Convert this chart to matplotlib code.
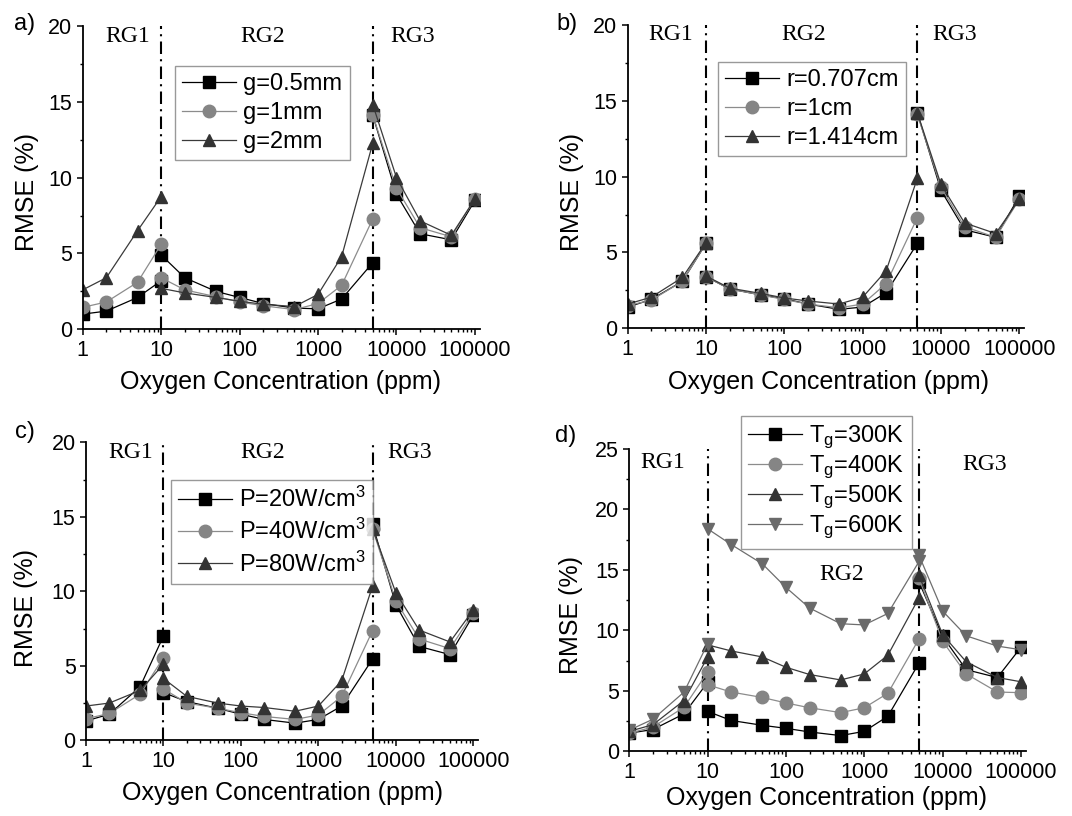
import matplotlib
matplotlib.use("Agg")
import matplotlib.pyplot as plt
from matplotlib.ticker import FixedLocator, NullFormatter

plt.rcParams['font.family'] = ['Liberation Sans', 'DejaVu Sans']
plt.rcParams['mathtext.fontset'] = 'custom'
plt.rcParams['mathtext.rm'] = 'Liberation Sans'
plt.rcParams['mathtext.it'] = 'Liberation Sans:italic'

# ---------------- data ----------------
x_rg1 = [1, 2, 5, 10]
x_rg2 = [10, 20, 50, 100, 200, 500, 1000, 2000, 5000]
x_rg3 = [5000, 10000, 20000, 50000, 100000]
xtick_vals = [1, 10, 100, 1000, 10000, 100000]
xtick_labels = ["1", "10", "100", "1000", "10000", "100000"]

# panel a (gap)
a_labels = ["g=0.5mm", "g=1mm", "g=2mm"]
a_g05 = [1.0, 1.2, 2.1, 3.2,
         4.9, 3.4, 2.5, 2.1, 1.7, 1.4, 1.35, 2.0, 4.4,
         14.1, 8.9, 6.3, 5.9, 8.5]
a_g1 = [1.45, 1.8, 3.1, 5.6,
        3.4, 2.6, 2.15, 1.8, 1.55, 1.3, 1.7, 2.9, 7.3,
        14.1, 9.3, 6.7, 6.1, 8.6]
a_g2 = [2.6, 3.4, 6.5, 8.75,
        2.7, 2.4, 2.1, 1.85, 1.65, 1.5, 2.3, 4.8, 12.3,
        14.8, 10.0, 7.15, 6.2, 8.6]

# panel b (radius)
b_labels = ["r=0.707cm", "r=1cm", "r=1.414cm"]
b_r0707 = [1.4, 1.9, 3.1, 5.6,
           3.4, 2.6, 2.2, 1.95, 1.6, 1.25, 1.4, 2.35, 5.6,
           14.2, 9.1, 6.5, 6.0, 8.7]
b_r1 = [1.5, 1.85, 3.1, 5.6,
        3.4, 2.6, 2.2, 1.9, 1.6, 1.35, 1.6, 2.95, 7.3,
        14.1, 9.3, 6.7, 6.0, 8.5]
b_r1414 = [1.6, 2.05, 3.35, 5.65,
           3.45, 2.65, 2.3, 2.0, 1.8, 1.6, 2.05, 3.8, 9.9,
           14.2, 9.5, 6.95, 6.25, 8.5]

# panel c (power)
c_labels = [r"P=20W/cm$^{3}$", r"P=40W/cm$^{3}$", r"P=80W/cm$^{3}$"]
c_p20 = [1.3, 1.75, 3.6, 7.0,
         3.2, 2.6, 2.15, 1.75, 1.4, 1.15, 1.4, 2.3, 5.45,
         14.5, 9.1, 6.3, 5.75, 8.4]
c_p40 = [1.45, 1.8, 3.1, 5.55,
         3.45, 2.5, 2.15, 1.85, 1.6, 1.4, 1.7, 2.95, 7.35,
         14.2, 9.35, 6.8, 6.15, 8.55]
c_p80 = [2.3, 2.5, 3.35, 5.1,
         4.15, 2.95, 2.5, 2.3, 2.2, 1.95, 2.3, 4.0, 10.35,
         14.2, 9.9, 7.4, 6.6, 8.75]

# panel d (gas temperature)
d_labels = [r"T$_{\mathrm{g}}$=300K", r"T$_{\mathrm{g}}$=400K",
            r"T$_{\mathrm{g}}$=500K", r"T$_{\mathrm{g}}$=600K"]
d_t300 = [1.5, 1.8, 3.1, 5.7,
          3.3, 2.55, 2.15, 1.9, 1.6, 1.3, 1.65, 2.9, 7.3,
          14.0, 9.5, 6.75, 6.1, 8.6]
d_t400 = [1.5, 2.0, 3.65, 6.55,
          5.5, 4.9, 4.45, 4.0, 3.6, 3.2, 3.6, 4.8, 9.3,
          14.3, 9.1, 6.4, 4.9, 4.85]
d_t500 = [1.65, 2.2, 4.2, 7.8,
          8.8, 8.3, 7.8, 6.95, 6.35, 5.9, 6.4, 7.95, 12.7,
          14.55, 9.65, 7.4, 6.1, 5.75]
d_t600 = [1.75, 2.65, 4.9, 8.9,
          18.4, 17.1, 15.5, 13.55, 11.85, 10.55, 10.45, 11.4, 15.7,
          16.2, 11.6, 9.55, 8.7, 8.4]

# ---------------- styling ----------------
W, H = 1072, 816
fig = plt.figure(figsize=(W / 100, H / 100), dpi=100)

SQ = dict(marker='s', color='#000000', mfc='#000000', mec='#000000', ms=8)
CI = dict(marker='o', color='#8c8c8c', mfc='#858585', mec='#858585', ms=9)
TR = dict(marker='^', color='#3a3a3a', mfc='#333333', mec='#333333', ms=9)
IT = dict(marker='v', color='#6e6e6e', mfc='#6a6a6a', mec='#6a6a6a', ms=9)


def add_ax(l, r, t, b):
    return fig.add_axes([l / W, 1 - b / H, (r - l) / W, (b - t) / H])


def fx(x):
    return x / W


def fy(y):
    return 1 - y / H


def draw_panel(ax, series, styles, labels, ymax, ystep, xmax,
               leg_xy, leg_spacing, rg_pos, plabel, plabel_xy, ylab_xy, xlab_xy):
    handles = []
    for vals, st, lab in zip(series, styles, labels):
        seg1 = vals[0:4]
        seg2 = vals[4:13]
        seg3 = vals[13:18]
        h, = ax.plot(x_rg1, seg1, lw=0.9, label=lab, **st)
        ax.plot(x_rg2, seg2, lw=0.9, **st)
        ax.plot(x_rg3, seg3, lw=0.9, **st)
        handles.append(h)
    for xv in (10, 5000):
        ax.plot([xv, xv], [0, ymax], color='black', lw=1.5,
                linestyle=(0, (6, 2.5, 1, 2.5)), zorder=1)
    ax.set_xscale('log')
    ax.set_xlim(1, xmax)
    ax.set_ylim(0, ymax)
    ax.xaxis.set_major_locator(FixedLocator(xtick_vals))
    ax.set_xticklabels(xtick_labels)
    minors = [m * 10 ** d for d in range(0, 5) for m in range(2, 10)]
    ax.xaxis.set_minor_locator(FixedLocator(minors))
    ax.xaxis.set_minor_formatter(NullFormatter())
    yt = list(range(0, ymax + 1, ystep))
    ax.set_yticks(yt)
    ax.set_yticks([v + ystep / 2 for v in yt[:-1]], minor=True)
    for s in ('top', 'right'):
        ax.spines[s].set_visible(False)
    for s in ('left', 'bottom'):
        ax.spines[s].set_linewidth(1.3)
    ax.tick_params(which='major', direction='out', length=4.5, width=1.1,
                   labelsize=15.5, pad=3)
    ax.tick_params(which='minor', direction='out', length=2.5, width=1.0)
    ax.patch.set_alpha(0)

    leg = fig.legend(handles=handles, labels=labels, loc='upper left',
                     bbox_to_anchor=(fx(leg_xy[0]), fy(leg_xy[1])),
                     bbox_transform=fig.transFigure, borderaxespad=0,
                     fontsize=17, frameon=True, fancybox=False,
                     edgecolor='#808080', handlelength=2.3,
                     handletextpad=0.3, labelspacing=leg_spacing, borderpad=0.3)
    leg.get_frame().set_linewidth(1.0)

    for txt, (px, py) in zip(("RG1", "RG2", "RG3"), rg_pos):
        fig.text(fx(px), fy(py), txt, ha='center', va='center',
                 fontsize=17, family=['Liberation Serif', 'DejaVu Serif'])
    fig.text(fx(plabel_xy[0]), fy(plabel_xy[1]), plabel, ha='center',
             va='center', fontsize=17)
    fig.text(fx(ylab_xy[0]), fy(ylab_xy[1]), "RMSE (%)", ha='center',
             va='center', rotation=90, fontsize=18)
    fig.text(fx(xlab_xy[0]), fy(xlab_xy[1]), "Oxygen Concentration (ppm)",
             ha='center', va='center', fontsize=18)


# panel a
ax_a = add_ax(82.7, 480, 26, 329.3)
draw_panel(ax_a, [a_g05, a_g1, a_g2], [SQ, CI, TR], a_labels, 20, 5, 1.16e5,
           (175, 66), 0.3, [(128, 37), (262.5, 37), (412.5, 37)],
           "a)", (25, 24), (27, 192), (281, 382.5))

# panel b
ax_b = add_ax(627.7, 1024.3, 25, 328.3)
draw_panel(ax_b, [b_r0707, b_r1, b_r1414], [SQ, CI, TR], b_labels, 20, 5, 1.16e5,
           (717.7, 61.7), 0.3, [(671, 35), (803.5, 35), (954.5, 35)],
           "b)", (567, 24), (572, 192), (828, 382.5))

# panel c
ax_c = add_ax(86, 478.3, 442.3, 740.3)
draw_panel(ax_c, [c_p20, c_p40, c_p80], [SQ, CI, TR], c_labels, 20, 5, 1.16e5,
           (170.7, 479.7), 0.3, [(131, 452), (262.5, 452), (410, 452)],
           "c)", (25, 432), (26, 608), (283, 793))

# panel d
ax_d = add_ax(629.3, 1026, 449, 751.3)
draw_panel(ax_d, [d_t300, d_t400, d_t500, d_t600], [SQ, CI, TR, IT], d_labels,
           25, 5, 1.16e5,
           (741, 416.3), 0.12, [(662.7, 462), (842, 575), (985, 464)],
           "d)", (566, 436), (571, 615.5), (827, 798))

fig.savefig("out.png", dpi=100)
